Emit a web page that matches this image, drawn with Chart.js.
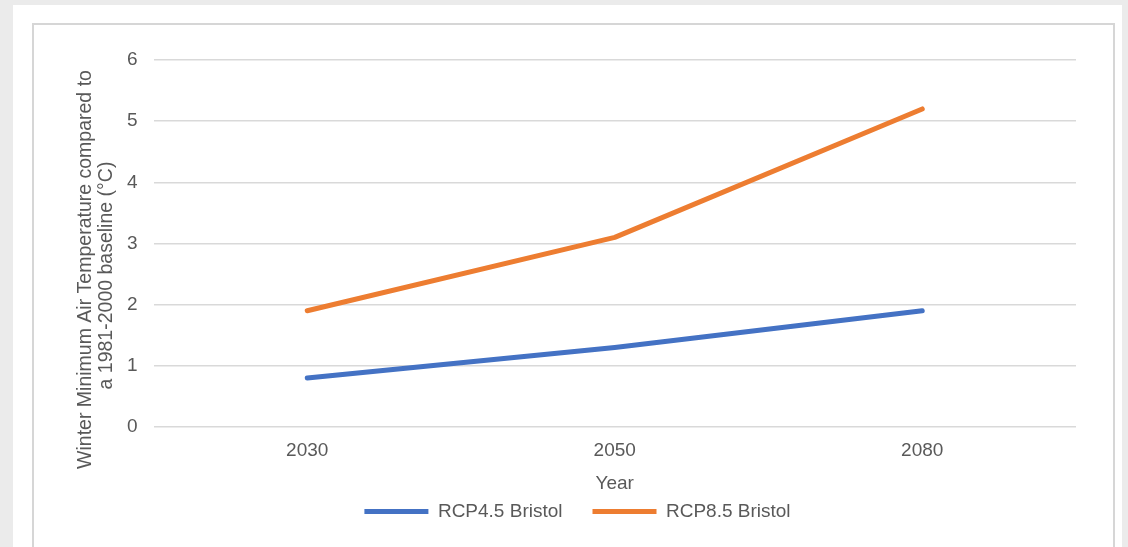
<!DOCTYPE html>
<html>
<head>
<meta charset="utf-8">
<script src="https://cdn.jsdelivr.net/npm/chart.js@4/dist/chart.umd.min.js"></script>
<style>
  html, body { margin: 0; padding: 0; width: 1128px; height: 547px; overflow: hidden; background: #ebebeb; }
  #panel { position: absolute; left: 13px; top: 5px; width: 1109px; height: 600px; background: #ffffff; }
  #frame { position: absolute; left: 32px; top: 23px; width: 1083px; height: 600px;
           border: 2px solid #d6d6d6; box-sizing: border-box; }
  #chart { position: absolute; left: 0; top: 0; }
</style>
</head>
<body>
<div id="panel"></div>
<div id="frame"></div>
<canvas id="chart" width="1128" height="547"></canvas>
<script>
// Projected change in winter minimum air temperature, Bristol
const years = ['2030', '2050', '2080'];
const rcp45 = [0.8, 1.3, 1.9];
const rcp85 = [1.9, 3.1, 5.2];
const seriesNames = ['RCP4.5 Bristol', 'RCP8.5 Bristol'];
const yTickMin = 0;
const yTickMax = 6;
const yTickStep = 1;
const xTitle = 'Year';
const yTitle = ['Winter Minimum Air Temperature compared to', 'a 1981-2000 baseline (\u00B0C)'];

const TEXT = '#595959';
const GRID = '#d9d9d9';
const FONT = '"Liberation Sans", Arial, sans-serif';
const FONT_SIZE = 19;

Chart.defaults.font.family = FONT;
Chart.defaults.font.size = FONT_SIZE;
Chart.defaults.color = TEXT;

// Two-line rotated y-axis title, placed beside the value labels
const yTitlePlugin = {
  id: 'yTitleLines',
  afterDraw(chart) {
    const { ctx, chartArea } = chart;
    const midY = (chartArea.top + chartArea.bottom) / 2;
    const spots = [[chartArea.left - 67.5, midY + 26], [chartArea.left - 46.5, midY + 32]];
    ctx.save();
    ctx.fillStyle = TEXT;
    ctx.font = '19.5px ' + FONT;
    ctx.textAlign = 'center';
    ctx.textBaseline = 'middle';
    yTitle.forEach((line, i) => {
      ctx.save();
      ctx.translate(spots[i][0], spots[i][1]);
      ctx.rotate(-Math.PI / 2);
      ctx.fillText(line, 0, 0);
      ctx.restore();
    });
    ctx.restore();
  }
};

// Places the legend row under the axis title, centred in the frame
const legendPlacement = {
  id: 'legendPlacement',
  afterLayout(chart) {
    const lg = chart.legend;
    if (!lg) return;
    const ca = chart.chartArea;
    const dx = (ca.left + 424) - (lg.left + lg.right) / 2;
    const dy = (ca.bottom + 45) - lg.top;
    lg.left += dx; lg.right += dx;
    lg.top += dy;
    lg.bottom = lg.top + 75;
    lg.height = 75;
  }
};

new Chart(document.getElementById('chart'), {
  type: 'line',
  data: {
    labels: years,
    datasets: [
      {
        label: seriesNames[0],
        data: rcp45,
        borderColor: '#4472C4',
        backgroundColor: '#4472C4',
        borderWidth: 5,
        borderCapStyle: 'round',
        borderJoinStyle: 'round',
        pointRadius: 0,
        tension: 0,
        fill: false
      },
      {
        label: seriesNames[1],
        data: rcp85,
        borderColor: '#ED7D31',
        backgroundColor: '#ED7D31',
        borderWidth: 5,
        borderCapStyle: 'round',
        borderJoinStyle: 'round',
        pointRadius: 0,
        tension: 0,
        fill: false
      }
    ]
  },
  options: {
    responsive: false,
    animation: false,
    layout: { padding: { top: 60, right: 52, left: 0, bottom: 17 } },
    scales: {
      x: {
        offset: true,
        grid: { display: false, drawTicks: false },
        border: { display: false },
        ticks: { padding: 12, color: TEXT, font: { size: FONT_SIZE } },
        title: { display: true, text: xTitle, color: TEXT, font: { size: FONT_SIZE }, padding: { top: 4, bottom: 2 } },
        afterFit(scale) { scale.height = 70; }
      },
      y: {
        min: yTickMin,
        max: yTickMax,
        ticks: { stepSize: yTickStep, padding: 16, color: TEXT, font: { size: FONT_SIZE } },
        grid: { color: GRID, lineWidth: 1.5, drawTicks: false },
        border: { display: false },
        afterFit(scale) { scale.width = 153.5; }
      }
    },
    plugins: {
      legend: {
        position: 'bottom',
        maxHeight: 33,
        labels: {
          usePointStyle: true,
          pointStyle: 'line',
          pointStyleWidth: 64,
          padding: 30,
          color: TEXT,
          font: { size: FONT_SIZE }
        }
      },
      tooltip: { enabled: false }
    }
  },
  plugins: [yTitlePlugin, legendPlacement]
});
</script>
</body>
</html>
